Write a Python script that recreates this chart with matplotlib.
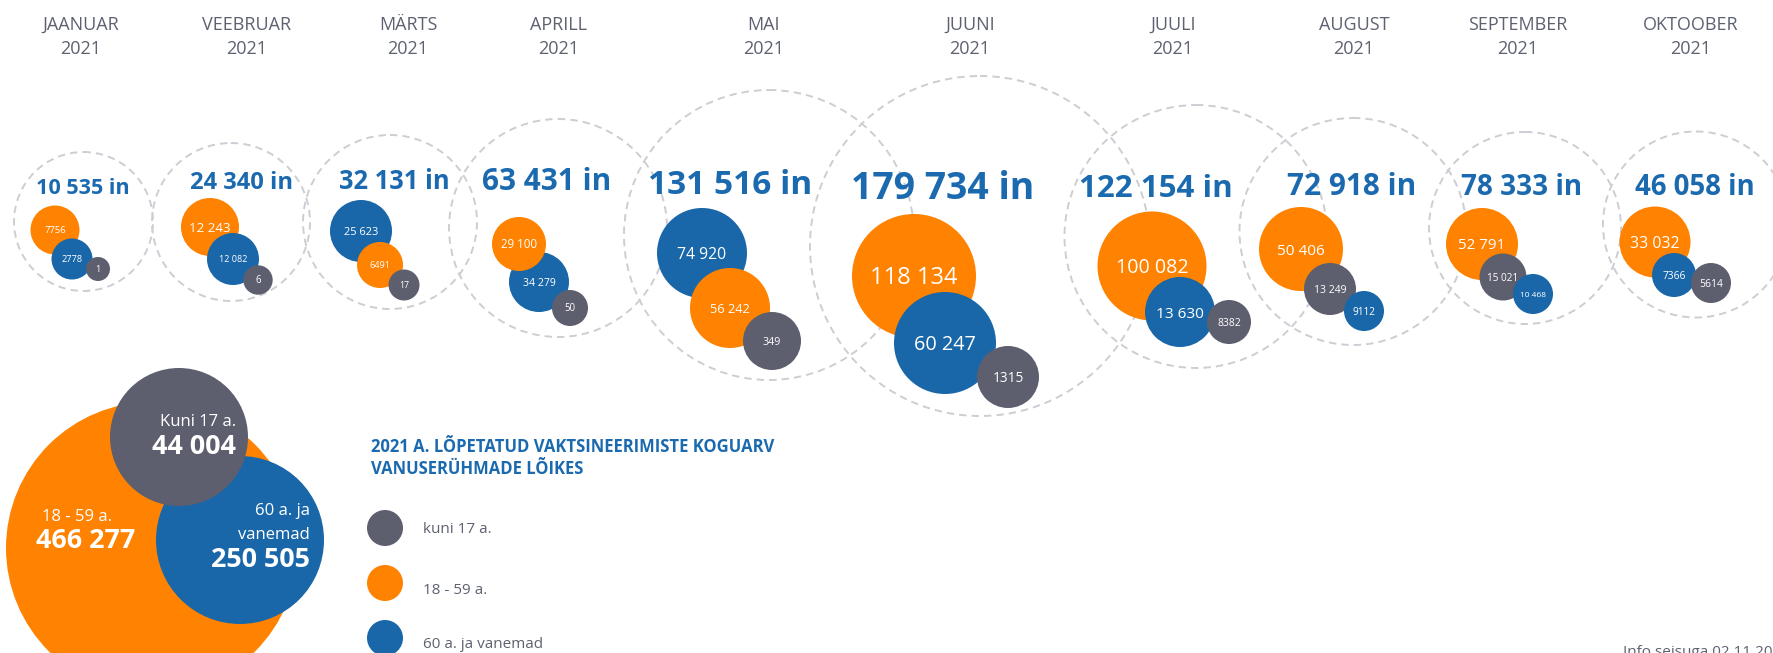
import matplotlib
matplotlib.use("Agg")
import matplotlib.pyplot as plt
from matplotlib.patches import Circle

plt.rcParams['font.family'] = ['Open Sans', 'DejaVu Sans']

# ---------------- data ----------------
months = ["JAANUAR", "VEEBRUAR", "MÄRTS", "APRILL", "MAI", "JUUNI",
          "JUULI", "AUGUST", "SEPTEMBER", "OKTOOBER"]
year_label = "2021"
totals = [10535, 24340, 32131, 63431, 131516, 179734, 122154, 72918, 78333, 46058]
kuni17 = [1, 6, 17, 50, 349, 1315, 8382, 13249, 15021, 5614]
age18_59 = [7756, 12243, 6491, 29100, 56242, 118134, 100082, 50406, 52791, 33032]
age60 = [2778, 12082, 25623, 34279, 74920, 60247, 13630, 9112, 10468, 7366]
group_names = ["kuni 17 a.", "18 - 59 a.", "60 a. ja vanemad"]
year_totals = [44004, 466277, 250505]
legend_title = ["2021 A. LÕPETATUD VAKTSINEERIMISTE KOGUARV", "VANUSERÜHMADE LÕIKES"]
footer = "Info seisuga 02.11.2021"

# ---------------- style / layout ----------------
C_GRAY = "#5D5F6F"
C_ORANGE = "#FF8200"
C_BLUE = "#1967A9"
C_TITLE = "#1B6AAF"
C_TEXT = "#5E6170"
C_RING = "#CDCED4"
group_colors = [C_GRAY, C_ORANGE, C_BLUE]

title_x = [81, 247, 408, 559, 764, 970, 1173, 1354, 1518, 1691]
ring = [(83.5, 221.5, 69.5), (231, 222, 79), (390, 222, 87), (558, 228, 109),
        (769, 235, 145), (980, 246, 170), (1196, 236.5, 131.5), (1353, 231.5, 113.5),
        (1525, 228, 96), (1696, 224.5, 93)]
total_pos = [(83, 194, 15.6), (242, 189, 17.1), (394.5, 189, 18.4), (547, 190, 21.4),
             (730, 194, 24.1), (943, 199, 26.9), (1156, 196.7, 22.6), (1351.5, 195, 21.4),
             (1522, 195, 20.1), (1695, 195, 19.9)]
# per month: (x, y, r, fontsize) for [kuni17, 18-59, 60+]
bubbles = [
    [(98, 269, 12, 6.5), (55, 230, 24.5, 6.8), (72, 259, 20.5, 6.7)],
    [(258, 280, 14.7, 7), (210, 227, 29, 9.6), (233, 259, 26, 6.5)],
    [(404, 285, 15.5, 6.3), (380, 265, 23, 6.6), (361, 231, 31, 7.9)],
    [(570, 308, 18, 6.9), (519, 244, 27, 8.3), (539, 282, 30, 7.6)],
    [(772, 341, 29, 7.7), (730, 308, 40, 9.2), (702, 253, 45, 11.3)],
    [(1008, 377, 31, 9.8), (914, 276, 62, 17), (945, 343, 51, 14.3)],
    [(1229, 322, 22, 7.5), (1152, 266, 54.5, 14.1), (1180, 312, 35, 11.1)],
    [(1330, 289, 26, 7.5), (1301, 249, 42, 11.1), (1364, 311, 20, 7.2)],
    [(1503, 277, 23.5, 7.2), (1482, 244, 36, 10.9), (1533, 294, 20, 6.0)],
    [(1711, 283, 20, 7.5), (1655, 242, 35.5, 11.4), (1674, 275, 22, 7.3)],
]
big = [(179, 437, 69), (152, 548, 146), (240, 540, 84)]


def fmt(v):
    return f"{v:,}".replace(",", " ") if v >= 10000 else str(v)


def cap_off(fs):
    # half cap-height in pixels (dpi 100), Open Sans cap height 0.714 em
    return 0.357 * fs * 100 / 72


fig = plt.figure(figsize=(17.74, 6.53), dpi=100)
ax = fig.add_axes([0, 0, 1, 1])
ax.set_xlim(0, 1774)
ax.set_ylim(653, 0)
ax.axis("off")

series = [kuni17, age18_59, age60]

for i, m in enumerate(months):
    ax.text(title_x[i], 30, m, ha="center", va="baseline", fontsize=13, color=C_TEXT)
    ax.text(title_x[i], 54, year_label, ha="center", va="baseline", fontsize=13, color=C_TEXT)
    cx, cy, R = ring[i]
    ax.add_patch(Circle((cx, cy), R, fill=False, ec=C_RING, lw=1.4,
                        ls=(0, (3.8, 2.6)), zorder=1))
    tx, tb, tfs = total_pos[i]
    ax.text(tx, tb, f"{fmt(totals[i])} in", ha="center", va="baseline",
            fontsize=tfs, fontweight="bold", color=C_TITLE, zorder=6)
    vals = [s[i] for s in series]
    order = sorted(range(3), key=lambda g: -vals[g])
    for rank, g in enumerate(order):
        x, y, r, fs = bubbles[i][g]
        z = 2 + rank
        ax.add_patch(Circle((x, y), r, color=group_colors[g], lw=0, zorder=z))
        ax.text(x, y + cap_off(fs), fmt(vals[g]), ha="center", va="baseline",
                fontsize=fs, color="white", zorder=z + 0.5)

# ---------------- yearly totals ----------------
draw_order = [1, 2, 0]
for k, g in enumerate(draw_order):
    x, y, r = big[g]
    ax.add_patch(Circle((x, y), r, color=group_colors[g], lw=0, zorder=2 + k))

ax.text(236, 426, "Kuni 17 a.", ha="right", va="baseline", fontsize=12, color="white", zorder=10)
ax.text(236, 454, fmt(year_totals[0]), ha="right", va="baseline", fontsize=19.4,
        fontweight="bold", color="white", zorder=10)
ax.text(42, 521, "18 - 59 a.", ha="left", va="baseline", fontsize=12, color="white", zorder=10)
ax.text(36, 547.7, fmt(year_totals[1]), ha="left", va="baseline", fontsize=19.4,
        fontweight="bold", color="white", zorder=10)
ax.text(310, 515, "60 a. ja", ha="right", va="baseline", fontsize=12, color="white", zorder=10)
ax.text(310, 539.3, "vanemad", ha="right", va="baseline", fontsize=12, color="white", zorder=10)
ax.text(309.5, 567.3, fmt(year_totals[2]), ha="right", va="baseline", fontsize=19.4,
        fontweight="bold", color="white", zorder=10)

# ---------------- legend ----------------
ax.text(371, 452.3, legend_title[0], ha="left", va="baseline", fontsize=12,
        fontweight="bold", color=C_TITLE)
ax.text(371, 474.3, legend_title[1], ha="left", va="baseline", fontsize=12,
        fontweight="bold", color=C_TITLE)
leg_y = [528, 583, 638]
leg_base = [532.7, 594.3, 648]
for g in range(3):
    ax.add_patch(Circle((385, leg_y[g]), 18, color=group_colors[g], lw=0))
    ax.text(423.3, leg_base[g], group_names[g], ha="left", va="baseline",
            fontsize=11, color=C_TEXT)

ax.text(1623, 656, footer, ha="left", va="baseline", fontsize=11, color=C_TEXT)

fig.savefig("out.png", dpi=100, facecolor="white")
